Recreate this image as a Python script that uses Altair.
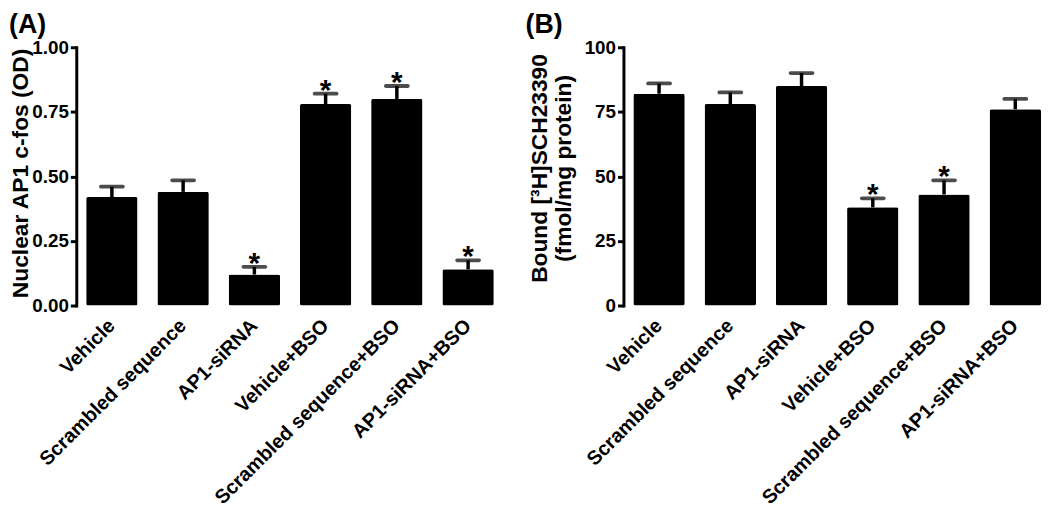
import altair as alt
import pandas as pd

categories = ["Vehicle", "Scrambled sequence", "AP1-siRNA", "Vehicle+BSO",
              "Scrambled sequence+BSO", "AP1-siRNA+BSO"]

a_means = [0.42, 0.44, 0.12, 0.78, 0.80, 0.14]
a_errors = [0.04, 0.045, 0.03, 0.04, 0.05, 0.035]
a_stars = ["", "", "*", "*", "*", "*"]
a_ticks = [0, 0.25, 0.5, 0.75, 1.0]

b_means = [82, 78, 85, 38, 43, 76]
b_errors = [4, 4.5, 5, 3.5, 5.5, 4]
b_stars = ["", "", "", "*", "*", ""]
b_ticks = [0, 25, 50, 75, 100]

FONT = "Liberation Sans"
PLOT_W = 422
PLOT_H = 261


def panel(means, errors, stars, ticks, dmax, fmt, title, title_x, title_y, label, label_x):
    df = pd.DataFrame({
        "cat": categories,
        "mean": means,
        "upper": [m + e for m, e in zip(means, errors)],
        "star": stars,
    })
    base = alt.Chart(df)
    xenc = alt.X(
        "cat:N", sort=categories,
        scale=alt.Scale(paddingInner=0.2778, paddingOuter=0.0694, align=1),
        axis=alt.Axis(title=None, domain=False, ticks=False, tickSize=0,
                      labelAngle=-45, labelAlign="right", labelBaseline="middle",
                      labelFont=FONT, labelFontSize=20, labelFontWeight="bold",
                      labelColor="black", labelPadding=17, labelLimit=0),
    )
    yenc = alt.Y(
        "mean:Q",
        scale=alt.Scale(domain=[0, dmax], nice=False, zero=True),
        axis=alt.Axis(values=ticks, format=fmt, title=title, grid=False,
                      domainWidth=3, domainColor="black", domainCap="square",
                      tickWidth=3, tickColor="black", tickSize=6,
                      labelPadding=2, labelFont=FONT, labelFontSize=19,
                      labelFontWeight="bold", labelColor="black",
                      titleFont=FONT, titleFontSize=23, titleFontWeight="bold",
                      titleColor="black", titleAngle=270, titleAlign="center",
                      titleBaseline="middle", titleX=title_x, titleY=title_y,
                      titleLineHeight=24),
    )
    bars = base.mark_bar(color="black", cornerRadius=2).encode(x=xenc, y=yenc)
    whisker = base.mark_rule(color="black", strokeWidth=3.5).encode(
        x=alt.X("cat:N", sort=categories), y="mean:Q", y2="upper:Q")
    cap = base.mark_tick(color="black", size=26, thickness=3.8, cornerRadius=1.9).encode(
        x=alt.X("cat:N", sort=categories), y="upper:Q")
    star = base.mark_text(font=FONT, fontSize=30, fontWeight="bold", color="black",
                          baseline="alphabetic", dy=6).encode(
        x=alt.X("cat:N", sort=categories), y="upper:Q", text="star:N")
    lab = alt.Chart(pd.DataFrame({"t": [label]})).mark_text(
        align="left", baseline="top", font=FONT, fontSize=27, fontWeight="bold",
        color="black").encode(x=alt.value(label_x), y=alt.value(-35), text="t:N")
    return alt.layer(bars, whisker, cap, star, lab).properties(width=PLOT_W, height=PLOT_H)


panel_a = panel(a_means, a_errors, a_stars, a_ticks, 1.0, ".2f",
                "Nuclear AP1 c-fos (OD)", -56, 127, "(A)", -68)
panel_b = panel(b_means, b_errors, b_stars, b_ticks, 100, "d",
                ["Bound [³H]SCH23390", "(fmol/mg protein)"], -85, 122, "(B)", -99)

chart = alt.hconcat(panel_a, panel_b, spacing=30, padding=0).configure_view(
    stroke="transparent").configure_concat(spacing=30)

chart.save("out.html", embed_options={"renderer": "svg", "actions": False})
